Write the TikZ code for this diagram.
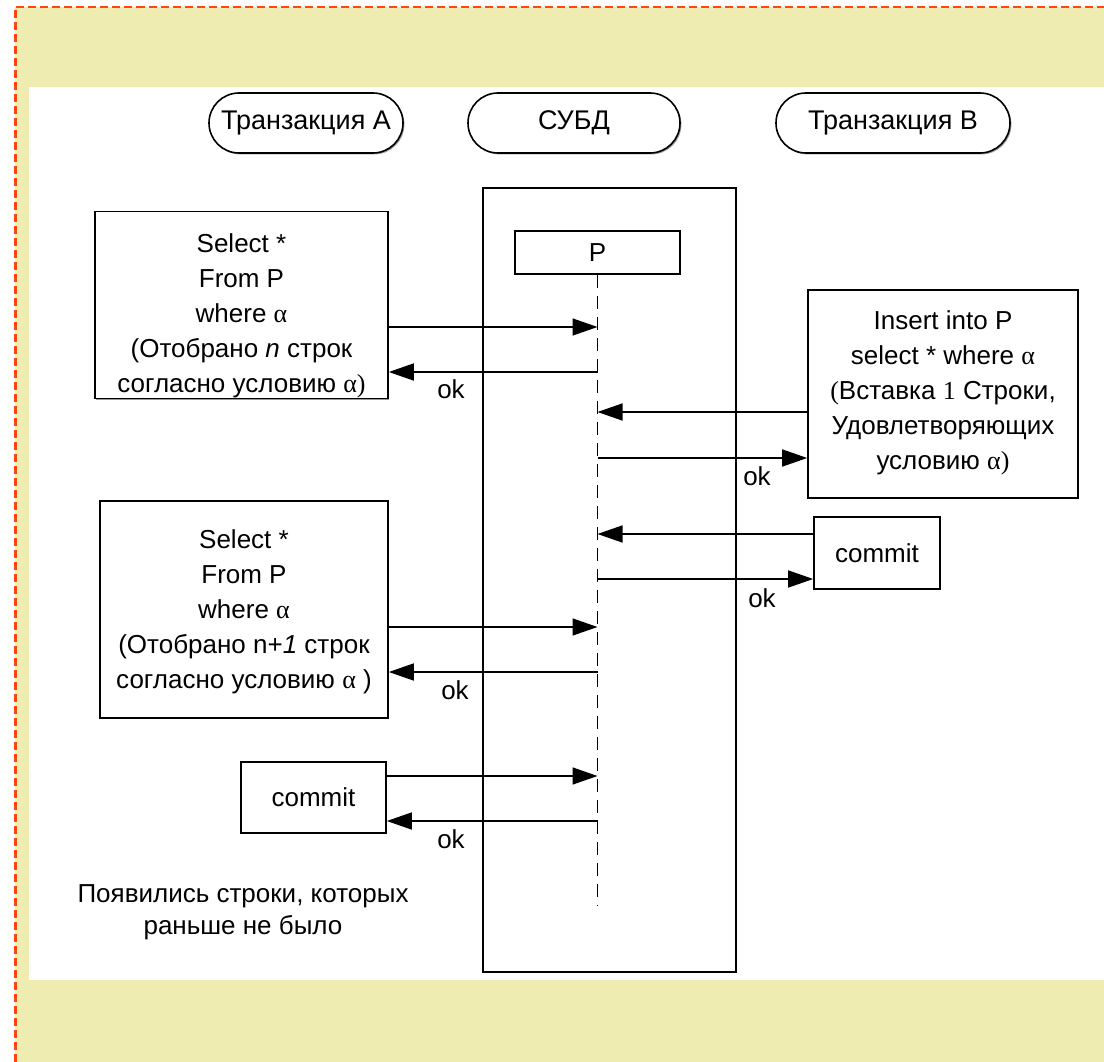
\documentclass[tikz,border=0pt]{standalone}
\usepackage{fontspec}
\setmainfont{Liberation Sans}
\newfontfamily\greekserif{Liberation Serif}
\usetikzlibrary{arrows.meta,shadows}
\newcommand{\alp}{{\greekserif α}}
\newcommand{\srf}[1]{{\greekserif #1}}

\definecolor{pagebg}{RGB}{239,236,178}
\definecolor{frameline}{RGB}{255,70,15}

\begin{document}
\begin{tikzpicture}[x=1pt,y=-1pt,
  every node/.style={font=\fontsize{26}{35}\selectfont, inner sep=0pt},
  shade edge/.style={drop shadow={shadow xshift=1.4pt, shadow yshift=-1.4pt, fill=black!40, opacity=1}},
  frame/.style={draw, line width=1.6pt, fill=white, shade edge},
  plainbox/.style={draw, line width=1.6pt, fill=white},
  pill/.style={draw, line width=1.6pt, fill=white, rounded corners=30pt,
    minimum height=60, shade edge, font=\fontsize{27}{32}\selectfont},
  boxtext/.style={align=center},
  msg/.style={-{Triangle[length=25pt,width=17pt]}, line width=1.5pt},
  lifeline/.style={line width=1.5pt, dash pattern=on 13pt off 8pt},
  oklabel/.style={font=\fontsize{26}{30}\selectfont},
]
\useasboundingbox (0,0) rectangle (1104,1062);

% page background with the dashed frame and white work area
\fill[pagebg] (15,7) rectangle (1104,1062);
\fill[white] (29,87) rectangle (1104,980);
\draw[frameline, line width=2.2pt, dash pattern=on 8pt off 4pt]
  (15.5,1062) -- (15.5,7) -- (1104,7);

% participants
\node[pill, minimum width=194] (trA) at (306,123) {Транзакция A};
\node[pill, minimum width=212] (dbmsHead) at (574,123) {СУБД};
\node[pill, minimum width=234] (trB) at (893,123) {Транзакция B};

% DBMS column with the table P and its lifeline
\node[frame, minimum width=253, minimum height=784] (dbms) at (609.5,580) {};
\node[plainbox, minimum width=165, minimum height=43] (P) at (597.5,252.5) {P};
\coordinate (lifeend) at (597.5,905);
\draw[lifeline] (P.south) -- (lifeend);

% transaction A: first select
\node[frame, minimum width=293, minimum height=187] (a1) at (241.5,305) {};
\node[boxtext] (a1t) at (241.5,316) {Select *\\From P\\where \alp\\(Отобрано \textit{n} строк\\согласно условию \alp\srf{)}};

% transaction B: insert
\node[frame, minimum width=270, minimum height=208] (b1) at (943,394) {};
\node[boxtext] (b1t) at (943,393) {Insert into P\\select * where \alp\\\srf{(}Вставка \srf{1} Строки,\\Удовлетворяющих\\условию \alp\srf{)}};

% transaction B: commit
\node[frame, minimum width=126, minimum height=72] (bc) at (877,553) {commit};

% transaction A: second select
\node[frame, minimum width=288, minimum height=217] (a2) at (244,609.5) {};
\node[boxtext] (a2t) at (244,612) {Select *\\From P\\where \alp\\(Отобрано n+\textit{1} строк\\согласно условию \alp\ )};

% transaction A: commit
\node[frame, minimum width=145, minimum height=71] (ac) at (313.5,797.5) {commit};

% message points on the lifeline
\coordinate (l1) at (597.5,327);
\coordinate (l2) at (597.5,372);
\coordinate (l3) at (597.5,412);
\coordinate (l4) at (597.5,458);
\coordinate (l5) at (597.5,534);
\coordinate (l6) at (597.5,579);
\coordinate (l7) at (597.5,627);
\coordinate (l8) at (597.5,672);
\coordinate (l9) at (597.5,776);
\coordinate (l10) at (597.5,821);

% messages
\draw[msg] (a1.east |- l1) -- (l1);
\draw[msg] (l2) -- (a1.east |- l2);
\draw[msg] (b1.west |- l3) -- (l3);
\draw[msg] (l4) -- (b1.west |- l4);
\draw[msg] (bc.west |- l5) -- (l5);
\draw[msg] (l6) -- (bc.west |- l6);
\draw[msg] (a2.east |- l7) -- (l7);
\draw[msg] (l8) -- (a2.east |- l8);
\draw[msg] (ac.east |- l9) -- (l9);
\draw[msg] (l10) -- (ac.east |- l10);

% acknowledgements
\node[oklabel] (ok1) at (451,389) {ok};
\node[oklabel] (ok2) at (757,476) {ok};
\node[oklabel] (ok3) at (762,598) {ok};
\node[oklabel] (ok4) at (455,690) {ok};
\node[oklabel] (ok5) at (451,839) {ok};

% conclusion
\node[align=center, font=\fontsize{26}{32}\selectfont] (note) at (243,912)
  {Появились строки, которых\\раньше не было};
\end{tikzpicture}
\end{document}
